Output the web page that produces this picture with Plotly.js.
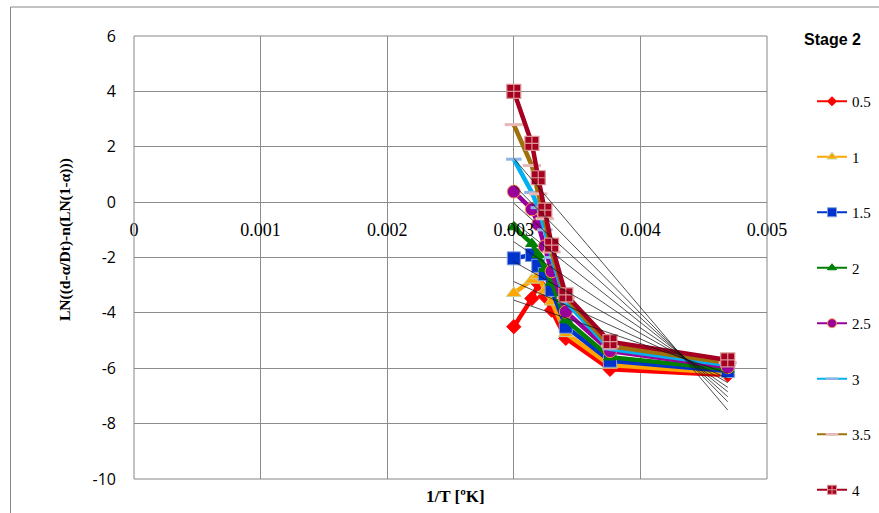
<!DOCTYPE html>
<html>
<head>
<meta charset="utf-8">
<script src="https://cdn.plot.ly/plotly-3.0.1.min.js"></script>
<style>html,body{margin:0;padding:0;background:#fff;}#chart{width:879px;height:513px;}</style>
</head>
<body>
<div id="chart"></div>
<script>
// 1/T values [1/K]
const invT = [0.003, 0.003143, 0.003193, 0.003245, 0.003299, 0.003411, 0.00376, 0.00469];
const seriesNames = ['0.5', '1', '1.5', '2', '2.5', '3', '3.5', '4'];
const s05 = [-4.5, -3.48, -2.95, -3.4, -3.9, -4.92, -6.04, -6.24];
const s1  = [-3.29, -2.81, -2.65, -3.2, -3.6, -4.74, -5.88, -6.17];
const s15 = [-2.03, -1.91, -2.3, -2.6, -3.17, -4.5, -5.73, -6.1];
const s2  = [-0.9, -1.5, -1.9, -2.4, -2.9, -4.26, -5.6, -6.04];
const s25 = [0.38, -0.26, -0.8, -1.6, -2.5, -3.96, -5.38, -5.96];
const s3  = [1.55, 0.35, -0.2, -1.0, -2.0, -3.6, -5.3, -5.88];
const s35 = [2.8, 1.32, 0.3, -0.6, -1.8, -3.45, -5.2, -5.8];
const s4  = [4.0, 2.12, 0.88, -0.29, -1.55, -3.35, -5.04, -5.7];
// linear trendline end points (at first and last 1/T)
const trendX = [0.003, 0.00469];
const trendStart = [-3.54, -2.87, -2.15, -1.43, -0.71, -0.04, 0.62, 1.58];
const trendEnd   = [-6.19, -6.37, -6.52, -6.69, -6.85, -7.03, -7.21, -7.51];
// axis ticks
const yTickVals = [6, 4, 2, 0, -2, -4, -6, -8, -10];
const yTickText = ['6', '4', '2', '0', '-2', '-4', '-6', '-8', '-10'];
const xTickVals = [0, 0.001, 0.002, 0.003, 0.004, 0.005];
const xTickText = ['0', '0.001', '0.002', '0.003', '0.004', '0.005'];

const allSeries = [s05, s1, s15, s2, s25, s3, s35, s4];
const colors = ['#FF0000', '#FFA500', '#0033CC', '#008000', '#990099', '#00B0F0', '#A0700A', '#A50021'];
const symbols = ['diamond', 'triangle-up', 'square', 'triangle-up', 'circle', 'line-ew', 'line-ew', 'square-cross'];
const sizes = [11, 13, 13, 11, 13, 11, 13, 14];
const mlineColor = ['#FF0000', '#C4D79B', '#7F9FDF', '#008000', '#F79646', '#8DB4E2', '#E6B9B8', '#D99694'];
const mlineWidth = [1, 1, 1, 1, 1, 3, 3, 1.2];
const legSizes = [7, 9, 9, 8, 9, 9, 9, 9];

const traces = [];
allSeries.forEach((ys, i) => {
  traces.push({
    x: invT, y: ys, type: 'scatter', mode: 'lines+markers', name: seriesNames[i],
    showlegend: false, cliponaxis: false,
    line: {color: colors[i], width: 4.5},
    marker: {symbol: symbols[i], size: sizes[i], color: colors[i],
             line: {color: mlineColor[i], width: mlineWidth[i]}}
  });
});
allSeries.forEach((ys, i) => {
  traces.push({
    x: trendX, y: [trendStart[i], trendEnd[i]], type: 'scatter', mode: 'lines',
    showlegend: false, hoverinfo: 'skip',
    line: {color: 'rgba(20,20,20,0.75)', width: 1}
  });
});
// legend entries
allSeries.forEach((ys, i) => {
  traces.push({
    x: [null], y: [null], type: 'scatter', mode: 'lines+markers', name: seriesNames[i],
    legendgroup: 'g' + i, showlegend: true,
    line: {color: colors[i], width: 2},
    marker: {symbol: symbols[i], size: legSizes[i], color: colors[i],
             line: {color: mlineColor[i], width: mlineWidth[i] > 2 ? 2.5 : 1}}
  });
});

const L = 134, R = 767, T = 36, B = 479;
const W = R - L, H = B - T;
const px2x = p => (p - L) / W;
const py2y = p => (B - p) / H;

const layout = {
  width: 879, height: 513, autosize: false,
  margin: {l: L, r: 879 - R, t: T, b: 513 - B, pad: 0},
  paper_bgcolor: '#ffffff', plot_bgcolor: '#ffffff',
  showlegend: true,
  xaxis: {
    range: [0, 0.005], tickmode: 'array', tickvals: xTickVals, ticktext: xTickText,
    anchor: 'free', position: 0.625,
    showgrid: true, gridcolor: '#8C8C8C', gridwidth: 1, zeroline: false,
    showline: false, ticks: '', ticklabelstandoff: 15,
    tickfont: {family: 'Liberation Serif, Times New Roman, serif', size: 18, color: '#000'}
  },
  yaxis: {
    range: [-10, 6], tickmode: 'array', tickvals: yTickVals, ticktext: yTickText,
    showgrid: true, gridcolor: '#8C8C8C', gridwidth: 1, zeroline: false,
    showline: false, ticks: '', ticklabelstandoff: 17,
    tickfont: {family: 'Open Sans, Liberation Sans, sans-serif', size: 16, color: '#000'}
  },
  legend: {
    xref: 'container', yref: 'container',
    x: 812 / 879, xanchor: 'left', y: 1 - 85 / 513, yanchor: 'top', maxheight: 470,
    traceorder: 'grouped', tracegroupgap: 33, borderwidth: 0, bgcolor: 'rgba(0,0,0,0)',
    font: {family: 'Liberation Serif, Times New Roman, serif', size: 15, color: '#000'}
  },
  shapes: [
    {type: 'rect', xref: 'paper', yref: 'paper', x0: 0, x1: 1, y0: 0, y1: 1,
     line: {color: '#868686', width: 1}, fillcolor: 'rgba(0,0,0,0)', layer: 'above'},
    {type: 'line', xref: 'paper', yref: 'paper', x0: px2x(10.5), x1: px2x(10.5), y0: py2y(7), y1: py2y(520),
     line: {color: '#868686', width: 1}},
    {type: 'line', xref: 'paper', yref: 'paper', x0: px2x(10.5), x1: px2x(885), y0: py2y(7), y1: py2y(7),
     line: {color: '#868686', width: 1}}
  ],
  annotations: [
    {text: '<b>Stage 2</b>', xref: 'paper', yref: 'paper', x: px2x(802), y: py2y(39),
     xanchor: 'left', yanchor: 'middle', showarrow: false,
     font: {family: 'Liberation Sans, Arial, sans-serif', size: 16, color: '#000'}},
    {text: '<b>LN((d-α/Dt)-n(LN(1-α)))</b>', xref: 'paper', yref: 'paper', x: px2x(65), y: py2y(240),
     xanchor: 'center', yanchor: 'middle', textangle: -90, showarrow: false,
     font: {family: 'Liberation Serif, Times New Roman, serif', size: 15.5, color: '#000'}},
    {text: '<b>1/T [ºK]</b>', xref: 'paper', yref: 'paper', x: px2x(455), y: py2y(496),
     xanchor: 'center', yanchor: 'middle', showarrow: false,
     font: {family: 'Liberation Serif, Times New Roman, serif', size: 17, color: '#000'}}
  ]
};

Plotly.newPlot('chart', traces, layout, {displayModeBar: false, staticPlot: true});
</script>
</body>
</html>
